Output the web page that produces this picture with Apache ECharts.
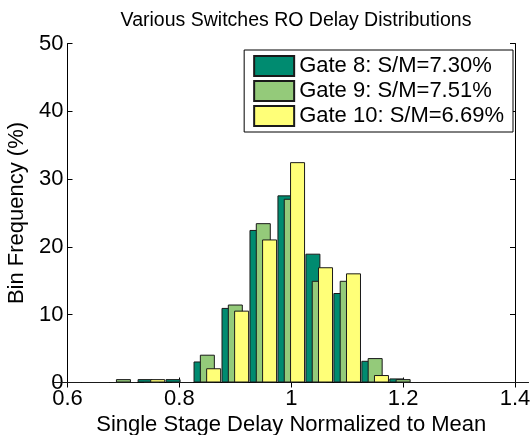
<!DOCTYPE html>
<html>
<head>
<meta charset="utf-8">
<script src="https://cdn.jsdelivr.net/npm/echarts@6/dist/echarts.min.js"></script>
<style>
html,body{margin:0;padding:0;background:#fff;}
#chart{width:532px;height:435px;}
</style>
</head>
<body>
<div id="chart"></div>
<script>
// Bin centers (normalized delay)
var bins = [0.6, 0.65, 0.7, 0.75, 0.8, 0.85, 0.9, 0.95, 1.0, 1.05, 1.1, 1.15, 1.2, 1.25, 1.3, 1.35, 1.4];
// Bin frequency (%) per gate
var gate8  = [0, 0, 0,   0.5, 0.5, 3.1, 11.0, 22.5, 27.6, 19.0, 13.2, 3.2, 0.6, 0, 0, 0, 0];
var gate9  = [0, 0, 0.5, 0,   0,   4.1, 11.5, 23.5, 27.1, 15.0, 15.0, 3.6, 0.5, 0, 0, 0, 0];
var gate10 = [0, 0, 0,   0.5, 0,   2.1, 10.6, 21.1, 32.5, 17.0, 16.1, 1.1, 0,   0, 0, 0, 0];
var seriesNames = ['Gate 8: S/M=7.30%', 'Gate 9: S/M=7.51%', 'Gate 10: S/M=6.69%'];
var yTicks = [0, 10, 20, 30, 40, 50];

var colors = ['#008B70', '#94CA7A', '#FFFF78'];
var FONT = 'Liberation Sans, Arial, Helvetica, sans-serif';

var chart = echarts.init(document.getElementById('chart'), null, {renderer: 'canvas'});

function mkSeries(name, data, color) {
  return {
    name: name,
    type: 'bar',
    xAxisIndex: 0,
    yAxisIndex: 0,
    data: data,
    barWidth: 15,
    barGap: '-58%',
    itemStyle: {color: color, borderColor: '#1a1a1a', borderWidth: 1},
    emphasis: {disabled: true},
    animation: false
  };
}

var option = {
  animation: false,
  title: {
    text: 'Various Switches RO Delay Distributions',
    left: 291, top: 6, textAlign: 'center',
    textStyle: {fontFamily: FONT, fontSize: 19.5, fontWeight: 'normal', color: '#000'}
  },
  legend: {
    orient: 'vertical',
    right: 19, top: 50,
    itemWidth: 40, itemHeight: 20, itemGap: 3,
    padding: [5, 9, 5, 9],
    borderColor: '#000', borderWidth: 1,
    backgroundColor: '#fff',
    icon: 'rect',
    textStyle: {fontFamily: FONT, fontSize: 22, color: '#000'},
    data: seriesNames
  },
  grid: {left: 67.5, right: 17, top: 43.5, bottom: 52.5, containLabel: false, outerBoundsMode: 'none'},
  xAxis: [{
    type: 'category',
    data: bins,
    boundaryGap: false,
    position: 'bottom',
    name: 'Single Stage Delay Normalized to Mean',
    nameLocation: 'middle', nameGap: 25,
    nameTextStyle: {fontFamily: FONT, fontSize: 22, color: '#000'},
    axisLine: {lineStyle: {color: '#000', width: 1}},
    axisTick: {inside: true, length: 5, interval: 3, lineStyle: {color: '#000'}},
    axisLabel: {interval: 3, margin: 5, fontFamily: FONT, fontSize: 22, color: '#000',
      formatter: function (v) { return String(Number(v)); }},
    splitLine: {show: false}
  }, {
    type: 'category',
    data: bins,
    boundaryGap: false,
    position: 'top',
    axisLine: {lineStyle: {color: '#000', width: 1}},
    axisTick: {inside: true, length: 5, interval: 3, lineStyle: {color: '#000'}},
    axisLabel: {show: false},
    splitLine: {show: false}
  }],
  yAxis: [{
    type: 'value',
    min: 0, max: 50, interval: 10,
    position: 'left',
    name: 'Bin Frequency (%)',
    nameLocation: 'middle', nameGap: 37,
    nameTextStyle: {fontFamily: FONT, fontSize: 22, color: '#000'},
    axisLine: {show: true, lineStyle: {color: '#000', width: 1}},
    axisTick: {show: true, inside: true, length: 5, lineStyle: {color: '#000'}},
    axisLabel: {margin: 4, fontFamily: FONT, fontSize: 22, color: '#000',
      formatter: function (v) { return yTicks.indexOf(v) >= 0 ? String(v) : ''; }},
    splitLine: {show: false}
  }, {
    type: 'value',
    min: 0, max: 50, interval: 10,
    position: 'right',
    axisLine: {show: true, lineStyle: {color: '#000', width: 1}},
    axisTick: {show: true, inside: true, length: 5, lineStyle: {color: '#000'}},
    axisLabel: {show: false},
    splitLine: {show: false}
  }],
  series: [
    mkSeries(seriesNames[0], gate8, colors[0]),
    mkSeries(seriesNames[1], gate9, colors[1]),
    mkSeries(seriesNames[2], gate10, colors[2])
  ]
};
chart.setOption(option);
</script>
</body>
</html>
